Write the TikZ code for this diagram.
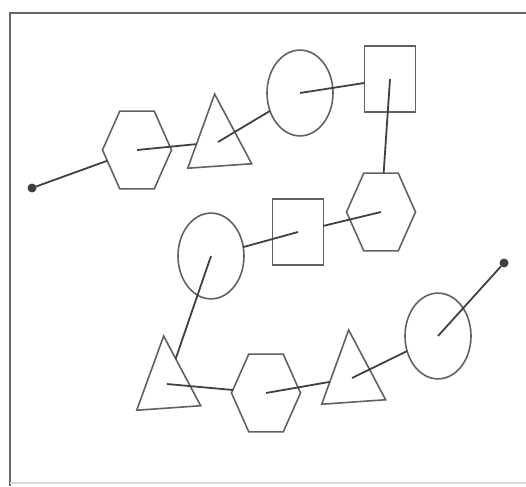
\documentclass[tikz,border=0pt]{standalone}
\usetikzlibrary{positioning}
\usetikzlibrary{shapes.geometric}

\definecolor{shapegray}{gray}{0.38}
\definecolor{linkgray}{gray}{0.25}
\definecolor{framegray}{gray}{0.4}

\tikzset{
	shp/.style = {draw = shapegray, line width = 1.6pt, inner sep = 0pt, outer sep = 0pt, yscale = 1.3},
	hexa/.style = {shp, regular polygon, regular polygon sides = 6, minimum size = 69pt},
	tri/.style = {rotate = 4, shp, regular polygon, regular polygon sides = 3, minimum size = 74pt},
	ring/.style = {shp, circle, minimum size = 66pt},
	box/.style = {shp, rectangle, minimum size = 51pt},
	dot/.style = {circle, fill = linkgray, inner sep = 0pt, outer sep = 0pt, minimum size = 9pt},
	link/.style = {draw = linkgray, line width = 1.8pt}
}

\begin{document}
\begin{tikzpicture}[x = 1pt, y = -1pt]
					\useasboundingbox (0, 0) rectangle (526, 486);
					\draw [framegray, line width = 2pt] (10, 486) -- (10, 13) -- (526, 13);
					\draw [gray!30, line width = 1.2pt] (10, 483) -- (526, 483);
					\node (dotL) at (32, 188) [dot] {};
					\node (hexA) at (137, 150) [hexa] {};
					\node (triA) at (218, 142) [tri] {};
					\node (cirA) at (300, 93) [ring] {};
					\node (sqrA) at (390, 79) [box] {};
					\node (hexB) at (381, 212) [hexa] {};
					\node (sqrB) at (298, 232) [box] {};
					\node (cirB) at (211, 256) [ring] {};
					\node (triB) at (167, 384) [tri] {};
					\node (hexC) at (266, 393) [hexa] {};
					\node (triC) at (352, 378) [tri] {};
					\node (cirC) at (438, 336) [ring] {};
					\node (dotR) at (504, 263) [dot] {};
					\draw [link] (dotL.center) -- (hexA);
					\draw [link] (hexA.center) -- (triA);
					\draw [link] (triA.center) -- (cirA);
					\draw [link] (cirA.center) -- (sqrA);
					\draw [link] (sqrA.center) -- (hexB);
					\draw [link] (hexB.center) -- (sqrB);
					\draw [link] (sqrB.center) -- (cirB);
					\draw [link] (cirB.center) -- (triB);
					\draw [link] (triB.center) -- (hexC);
					\draw [link] (hexC.center) -- (triC);
					\draw [link] (triC.center) -- (cirC);
					\draw [link] (cirC.center) -- (dotR);
				\end{tikzpicture}
\end{document}
